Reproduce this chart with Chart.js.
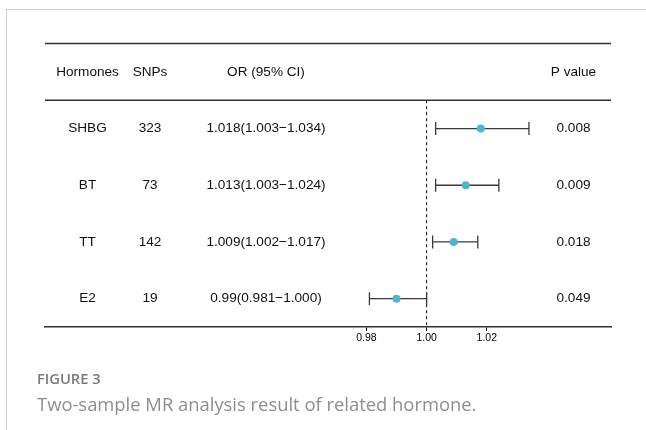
<!DOCTYPE html>
<html>
<head>
<meta charset="utf-8">
<script src="https://cdn.jsdelivr.net/npm/chart.js@4.4.1/dist/chart.umd.min.js"></script>
<style>
  html, body { margin: 0; padding: 0; background: #fff; width: 646px; height: 430px; overflow: hidden; }
  #card { position: absolute; left: 6px; top: 9px; width: 700px; height: 500px;
          border-left: 1px solid #cfcfcf; border-top: 1px solid #cfcfcf; }
  #wrap { position: absolute; left: 0; top: 0; width: 646px; height: 430px; }
  #fig { position: absolute; left: 37px; top: 370px; font-family: "Open Sans", sans-serif;
         font-size: 14.7px; line-height: 17px; font-weight: 600; color: #7a7a7a; }
  #cap { position: absolute; left: 37px; top: 393px; font-family: "Open Sans", sans-serif;
         font-size: 18.4px; line-height: 22px; font-weight: 400; color: #8e8e8e; }
</style>
</head>
<body>
<div id="card"></div>
<div id="wrap"><canvas id="c" width="646" height="430"></canvas></div>
<div id="fig">FIGURE 3</div>
<div id="cap">Two-sample MR analysis result of related hormone.</div>
<script>
// ---- data ----
const headers   = ['Hormones', 'SNPs', 'OR (95% CI)', 'P value'];
const hormones  = ['SHBG', 'BT', 'TT', 'E2'];
const snps      = ['323', '73', '142', '19'];
const orText    = ['1.018(1.003\u22121.034)', '1.013(1.003\u22121.024)', '1.009(1.002\u22121.017)', '0.99(0.981\u22121.000)'];
const pValues   = ['0.008', '0.009', '0.018', '0.049'];
const orValues  = [1.018, 1.013, 1.009, 0.99];
const ciLower   = [1.003, 1.003, 1.002, 0.981];
const ciUpper   = [1.034, 1.024, 1.017, 1.000];
const xTicks    = [0.98, 1.00, 1.02];
const refValue  = 1.00;

// ---- layout (pixels) ----
const X_MIN = 0.87322, X_MAX = 1.06126;
const colCenters = [87.5, 150, 266, 573.5];

const rowY = hormones.map((_, i) => i + 1);

const datasets = [];
// reference dashed line
datasets.push({
  type: 'line',
  data: [{ x: refValue, y: 0.5 }, { x: refValue, y: 4.5 }],
  borderColor: '#000', borderWidth: 1, borderDash: [3, 3],
  pointRadius: 0, fill: false, order: 3
});
// CI lines with caps
hormones.forEach((h, i) => {
  datasets.push({
    type: 'line',
    data: [{ x: ciLower[i], y: rowY[i] }, { x: ciUpper[i], y: rowY[i] }],
    borderColor: '#3a3a3a', borderWidth: 1.3,
    pointStyle: 'line', pointRotation: 90, pointRadius: 6.5,
    pointBorderColor: '#3a3a3a', pointBorderWidth: 1.3,
    fill: false, order: 2
  });
});
// point estimates
datasets.push({
  type: 'scatter',
  data: orValues.map((v, i) => ({ x: v, y: rowY[i] })),
  backgroundColor: '#4db5d3', borderColor: '#4db5d3', borderWidth: 0,
  pointRadius: 4, order: 1
});

const tablePlugin = {
  id: 'table',
  afterDatasetsDraw(chart) {
    const { ctx, chartArea, scales } = chart;
    const y = scales.y;
    ctx.save();
    ctx.strokeStyle = '#333';
    ctx.lineWidth = 1.5;
    [-0.5, 0.5].forEach(v => {
      const py = y.getPixelForValue(v);
      ctx.beginPath();
      ctx.moveTo(chartArea.left, py);
      ctx.lineTo(chartArea.right, py);
      ctx.stroke();
    });
    ctx.fillStyle = '#111';
    ctx.font = '13.6px "Liberation Sans", Arial, sans-serif';
    ctx.textAlign = 'center';
    ctx.textBaseline = 'middle';
    const hy = y.getPixelForValue(0);
    headers.forEach((t, j) => ctx.fillText(t, colCenters[j], hy));
    hormones.forEach((h, i) => {
      const py = y.getPixelForValue(rowY[i]);
      ctx.fillText(h, colCenters[0], py);
      ctx.fillText(snps[i], colCenters[1], py);
      ctx.fillText(orText[i], colCenters[2], py);
      ctx.fillText(pValues[i], colCenters[3], py);
    });
    ctx.restore();
  }
};

new Chart(document.getElementById('c'), {
  data: { datasets },
  options: {
    responsive: false,
    animation: false,
    layout: { padding: { left: 45, right: 35, top: 43.5, bottom: 83 } },
    plugins: { legend: { display: false }, tooltip: { enabled: false } },
    scales: {
      x: {
        type: 'linear', min: X_MIN, max: X_MAX,
        afterBuildTicks: s => { s.ticks = xTicks.map(v => ({ value: v })); },
        afterFit: s => { s.height = 20; },
        ticks: {
          callback: v => Number(v).toFixed(2),
          font: { family: '"Liberation Sans", Arial, sans-serif', size: 10.5 },
          color: '#000', padding: 1, maxRotation: 0, autoSkip: false
        },
        grid: { drawOnChartArea: false, drawTicks: true, tickLength: 4, color: '#000', lineWidth: 1 },
        border: { display: true, color: '#333', width: 1.5 }
      },
      y: {
        type: 'linear', min: -0.5, max: 4.5, reverse: true, display: false
      }
    }
  },
  plugins: [tablePlugin]
});
</script>
</body>
</html>
